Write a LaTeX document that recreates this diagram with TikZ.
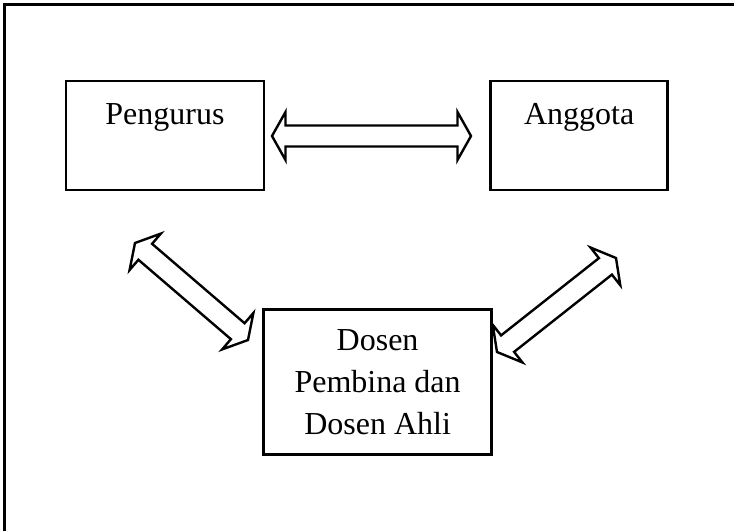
\documentclass[tikz,border=0pt]{standalone}
\usepackage{fontspec}
\setmainfont{Liberation Serif}
\usetikzlibrary{positioning,calc}

% hollow double arrow between two named points
\newcommand{\dblarrow}[2]{%
  \draw[hollow] (#1)
    -- ($(#1)!13.5pt!(#2)!24pt!90:(#2)$)
    -- ($(#1)!13.5pt!(#2)!10.5pt!90:(#2)$)
    -- ($(#2)!13.5pt!(#1)!10.5pt!-90:(#1)$)
    -- ($(#2)!13.5pt!(#1)!24pt!-90:(#1)$)
    -- (#2)
    -- ($(#2)!13.5pt!(#1)!24pt!90:(#1)$)
    -- ($(#2)!13.5pt!(#1)!10.5pt!90:(#1)$)
    -- ($(#1)!13.5pt!(#2)!10.5pt!-90:(#2)$)
    -- ($(#1)!13.5pt!(#2)!24pt!-90:(#2)$)
    -- cycle;}

\begin{document}
\begin{tikzpicture}[
  x=1pt, y=-1pt,
  box/.style={rectangle, draw, line width=2.6pt, inner sep=0pt, align=center,
    font=\fontsize{32}{42}\selectfont},
  topbox/.style={box, minimum height=0pt, text height=43pt, text depth=66pt},
  hollow/.style={draw, line width=2.4pt, line join=miter, fill=white},
]
  \useasboundingbox (0,0) rectangle (734,531);
  \draw[line width=3pt] (4.5,531) |- (734,4.5);

  \node[topbox, minimum width=198pt] (pengurus) at (165,135.5) {Pengurus};
  \node[topbox, minimum width=177pt, right=224pt of pengurus] (anggota) {Anggota};
  \node[box, minimum width=228pt, minimum height=145pt,
    below right=117pt and -3pt of pengurus] (dosen) {Dosen\\Pembina dan\\Dosen Ahli};

  \coordinate (pa) at (272,136);
  \coordinate (ap) at (471,136);
  \coordinate (pd) at (135,243);
  \coordinate (dp) at (248,340);
  \coordinate (da) at (497,352);
  \coordinate (ad) at (616,258);

  \dblarrow{pa}{ap}
  \dblarrow{pd}{dp}
  \dblarrow{da}{ad}
\end{tikzpicture}
\end{document}
